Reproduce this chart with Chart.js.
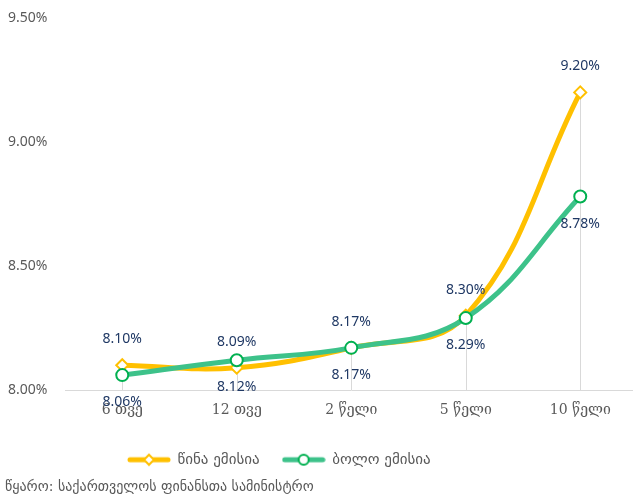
<!DOCTYPE html>
<html><head><meta charset="utf-8">
<script src="https://cdn.jsdelivr.net/npm/chart.js@4/dist/chart.umd.min.js"></script>
<style>
html,body{margin:0;padding:0;background:#fff;overflow:hidden;width:633px;height:498px}
#wrap{width:640px;height:498px}
</style></head>
<body><div id="wrap"><canvas id="c" width="640" height="498"></canvas></div>
<script>
const categories = ['6 თვე', '12 თვე', '2 წელი', '5 წელი', '10 წელი'];
const previousIssue = [8.10, 8.09, 8.17, 8.30, 9.20];
const lastIssue = [8.06, 8.12, 8.17, 8.29, 8.78];
const seriesNames = ['წინა ემისია', 'ბოლო ემისია'];
const yTickValues = [8.0, 8.5, 9.0, 9.5];
const sourceText = 'წყარო: საქართველოს ფინანსთა სამინისტრო';

const YELLOW = '#FFC000';
const GREEN_LINE = '#3DC28A';
const GREEN_MARK = '#00B050';
const GRAY = '#595959';
const NAVY = '#1F3864';
const NUM_FONT = '"Noto Sans", "DejaVu Sans", sans-serif';

function legendImage(lineColor, markColor, shape) {
  const c = document.createElement('canvas');
  c.width = 44; c.height = 14;
  const g = c.getContext('2d');
  g.strokeStyle = lineColor; g.lineWidth = 5; g.lineCap = 'round';
  g.beginPath(); g.moveTo(3, 7); g.lineTo(41, 7); g.stroke();
  g.fillStyle = '#fff'; g.strokeStyle = markColor; g.lineWidth = 2;
  g.beginPath();
  if (shape === 'diamond') {
    g.moveTo(22, 2); g.lineTo(27, 7); g.lineTo(22, 12); g.lineTo(17, 7); g.closePath();
  } else {
    g.arc(22, 7, 5, 0, Math.PI * 2);
  }
  g.fill(); g.stroke();
  return c;
}
const legendImgs = [legendImage(YELLOW, YELLOW, 'diamond'), legendImage(GREEN_LINE, GREEN_MARK, 'circle')];

const dropLines = {
  id: 'dropLines',
  beforeDatasetsDraw(chart) {
    const xs = chart.scales.x, ys = chart.scales.y, ctx = chart.ctx;
    ctx.save();
    ctx.strokeStyle = '#D9D9D9'; ctx.lineWidth = 1;
    categories.forEach((c, i) => {
      const top = Math.max(previousIssue[i], lastIssue[i]);
      const x = Math.round(xs.getPixelForValue(i)) + 0.5;
      ctx.beginPath();
      ctx.moveTo(x, ys.getPixelForValue(top));
      ctx.lineTo(x, ys.bottom);
      ctx.stroke();
    });
    ctx.restore();
  }
};

const dataLabels = {
  id: 'dataLabels',
  afterDatasetsDraw(chart) {
    const ctx = chart.ctx;
    ctx.save();
    ctx.font = '14px ' + NUM_FONT;
    ctx.fillStyle = NAVY;
    ctx.textAlign = 'center';
    ctx.textBaseline = 'middle';
    chart.data.datasets.forEach((ds, di) => {
      const meta = chart.getDatasetMeta(di);
      meta.data.forEach((pt, i) => {
        const off = di === 0 ? -26 : 27;
        ctx.fillText(ds.data[i].toFixed(2) + '%', pt.x, pt.y + off);
      });
    });
    ctx.restore();
  }
};

const blockPlace = {
  id: 'blockPlace',
  afterLayout(chart) {
    const L = chart.legend;
    L.left = 128 - L.options.labels.padding;
    if (chart.titleBlock) chart.titleBlock.left = 5;
  }
};

new Chart(document.getElementById('c'), {
  type: 'line',
  data: {
    labels: categories,
    datasets: [
      {
        label: seriesNames[0], data: previousIssue, order: 1,
        borderColor: YELLOW, borderWidth: 5, tension: 0.4,
        pointStyle: 'rectRot', pointRadius: 6, pointBorderWidth: 2,
        pointBackgroundColor: '#fff', pointBorderColor: YELLOW, clip: false
      },
      {
        label: seriesNames[1], data: lastIssue, order: 0,
        borderColor: GREEN_LINE, borderWidth: 5, tension: 0.4,
        pointStyle: 'circle', pointRadius: 6, pointBorderWidth: 2,
        pointBackgroundColor: '#fff', pointBorderColor: GREEN_MARK, clip: false
      }
    ]
  },
  options: {
    responsive: false,
    animation: false,
    devicePixelRatio: 1,
    layout: { autoPadding: false, padding: { top: 18, right: 2.5, left: 8, bottom: 0 } },
    scales: {
      x: {
        offset: true,
        grid: { display: false, drawTicks: true, tickLength: 12 },
        border: { display: true, color: '#D9D9D9', width: 1 },
        ticks: { color: GRAY, font: { family: '"DejaVu Serif", serif', size: 14 }, padding: 0, maxRotation: 0 },
        afterFit(s) { s.height = 39.2; s.paddingLeft = 0; s.paddingRight = 0; }
      },
      y: {
        min: 8, max: 9.5,
        grid: { display: false, drawTicks: false },
        border: { display: false },
        afterBuildTicks(s) { s.ticks = yTickValues.map(v => ({ value: v })); },
        ticks: { color: GRAY, font: { family: NUM_FONT, size: 14 }, padding: 0, crossAlign: 'far',
                 callback: v => Number(v).toFixed(2) + '%' },
        afterFit(s) { s.width = 57; }
      }
    },
    plugins: {
      legend: {
        position: 'bottom', align: 'start',
        labels: {
          usePointStyle: true, pointStyleWidth: 42, boxHeight: 14, padding: 23,
          color: GRAY, font: { family: '"DejaVu Sans", sans-serif', size: 15 },
          sort: (a, b) => a.datasetIndex - b.datasetIndex,
          generateLabels(chart) {
            const items = Chart.defaults.plugins.legend.labels.generateLabels(chart);
            items.forEach(it => { it.pointStyle = legendImgs[it.datasetIndex]; it.rotation = 0; });
            return items;
          }
        }
      },
      title: {
        display: true, text: sourceText, position: 'bottom', align: 'start',
        color: GRAY, font: { family: '"DejaVu Sans", sans-serif', size: 14, weight: 'normal' },
        padding: { top: 2, bottom: 2 }
      },
      tooltip: { enabled: false }
    }
  },
  plugins: [dropLines, dataLabels, blockPlace]
});
</script>
</body></html>
